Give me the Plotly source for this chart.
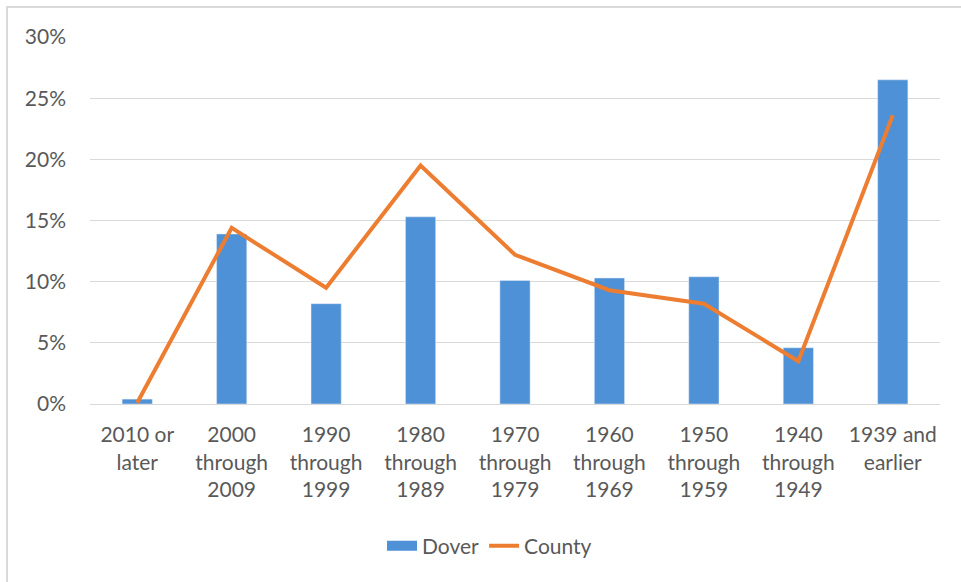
import plotly.graph_objects as go

categories = ["2010 or<br>later", "2000<br>through<br>2009", "1990<br>through<br>1999",
              "1980<br>through<br>1989", "1970<br>through<br>1979", "1960<br>through<br>1969",
              "1950<br>through<br>1959", "1940<br>through<br>1949", "1939 and<br>earlier"]
dover = [0.004, 0.139, 0.082, 0.153, 0.101, 0.103, 0.104, 0.046, 0.265]
county = [0.001, 0.144, 0.095, 0.195, 0.122, 0.093, 0.082, 0.035, 0.236]
y_ticks = [0, 0.05, 0.10, 0.15, 0.20, 0.25, 0.30]

FONT = "Lato, 'Open Sans', sans-serif"
TXT = "#595959"
BLUE = "#4F91D6"
ORANGE = "#ED7D31"

fig = go.Figure()
fig.add_trace(go.Bar(x=categories, y=dover, name="Dover", marker_color=BLUE,
                     width=0.32, showlegend=False))
# legend stand-in for the bar series (wide rectangle swatch)
fig.add_trace(go.Scatter(x=[categories[0]], y=[None], name="Dover", mode="lines",
                         line=dict(color=BLUE, width=12), showlegend=True))
fig.add_trace(go.Scatter(x=categories, y=county, name="County", mode="lines",
                         line=dict(color=ORANGE, width=4)))

fig.update_layout(
    width=961, height=582,
    margin=dict(l=90, r=21, t=37, b=178, autoexpand=False),
    paper_bgcolor="white", plot_bgcolor="white",
    font=dict(family=FONT, size=21, color=TXT),
    showlegend=True,
    legend=dict(orientation="h", x=0.47, xanchor="center", y=-0.387, yanchor="middle",
                font=dict(size=21, color=TXT), traceorder="normal"),
    xaxis=dict(showgrid=False, showline=True, linecolor="#D9D9D9", linewidth=1,
               ticks="", tickfont=dict(size=21, color=TXT), ticklabelstandoff=12),
    yaxis=dict(range=[0, 0.30], tickvals=y_ticks, tickformat=".0%",
               showgrid=True, gridcolor="#D9D9D9", gridwidth=1, zeroline=False,
               showline=False, ticks="", tickfont=dict(size=21, color=TXT),
               ticklabelstandoff=23),
    shapes=[dict(type="rect", xref="paper", yref="paper",
                 x0=-0.0976, x1=1.2, y0=-0.7, y1=1.0817,
                 line=dict(color="#D9D9D9", width=2), fillcolor="rgba(0,0,0,0)",
                 layer="below")],
)

fig.write_html("out.html", config={"displayModeBar": False},
               post_script="document.body.style.margin='0';document.body.style.padding='0';")
